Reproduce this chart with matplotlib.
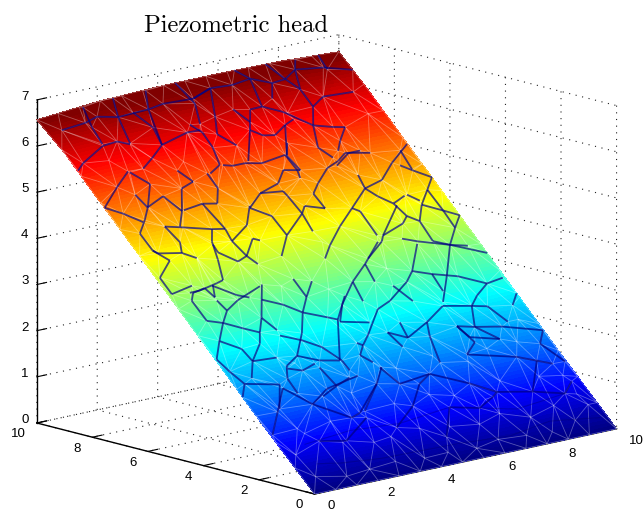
import numpy as np
import matplotlib
matplotlib.use('Agg')
import matplotlib.pyplot as plt
import matplotlib.tri as mtri
from matplotlib.colors import LinearSegmentedColormap
from mpl_toolkits.mplot3d.art3d import Line3DCollection

# head table (rows = y, columns = x)
table_x = [0, 2, 4, 6, 8, 10]
table_y = [0, 2, 4, 6, 8, 9, 10]
head_0 = [0.00, 0.00, 0.00, 0.00, 0.00, 0.00]
head_2 = [1.30, 1.31, 1.30, 1.28, 1.30, 1.31]
head_4 = [2.65, 2.66, 2.66, 2.66, 2.64, 2.65]
head_6 = [3.99, 4.00, 4.02, 4.00, 3.98, 3.99]
head_8 = [5.32, 5.35, 5.35, 5.34, 5.33, 5.33]
head_9 = [6.00, 6.03, 6.04, 6.03, 6.02, 6.00]
head_10 = [6.57, 6.68, 6.72, 6.72, 6.70, 6.63]

# fracture traces, (x, y)
fractures = [
    [(.45, 9.59), (1.25, 9.61), (1.69, 9.67), (2.26, 9.53), (3.27, 9.54), (3.80, 9.59), (4.78, 9.56), (5.48, 9.71),
     (6.17, 9.68), (6.82, 9.74), (7.37, 9.54), (7.83, 9.57), (8.32, 9.75), (9.20, 9.69), (10, 9.5)],
    [(1.5, 9.97), (1.34, 9.47), (1.25, 9.0)],
    [(3.58, 9.98), (3.27, 9.54), (2.93, 8.68), (2.37, 8.43), (1.90, 8.24)],
    [(2.51, 9.99), (2.26, 9.53), (2.05, 8.87)],
    [(2.77, 9.55), (3.03, 9.11), (2.93, 8.68)],
    [(4.58, 10), (4.72, 9.44), (4.45, 8.96)],
    [(.02, 8.54), (.32, 8.68), (1.23, 8.96), (1.72, 8.98), (2.03, 8.85)],
    [(2.93, 8.68), (3.90, 8.83), (4.32, 8.82)],
    [(5.48, 9.71), (5.03, 9.05), (4.73, 8.65), (5.06, 8.31)],
    [(5.48, 9.71), (4.78, 9.56)],
    [(6.54, 10), (6.82, 9.74), (6.59, 9.06), (6.19, 9.05), (5.76, 8.59), (5.07, 7.9)],
    [(7.37, 9.54), (7.05, 9.19)],
    [(7.57, 10), (7.83, 9.57), (8.05, 9.27), (8.06, 8.82), (8.56, 9.0), (9.53, 8.97)],
    [(8.54, 9.98), (8.32, 9.75), (8.05, 9.27)],
    [(9.31, 10), (9.28, 9.63)],
    [(6.59, 9.06), (7.09, 8.84), (7.68, 8.4), (8.22, 8.27), (8.56, 8.21), (8.14, 7.93), (7.87, 7.71)],
    [(8.06, 8.82), (7.68, 8.4), (7.36, 7.88), (7.58, 7.58)],
    [(7.24, 8.63), (6.88, 8.54), (6.31, 7.86)],
    [(5.76, 8.59), (6.03, 8.41), (6.38, 8.36), (6.88, 8.54)],
    [(4.26, 7.93), (4.53, 7.87), (4.93, 7.87), (5.42, 7.79), (6.26, 7.87)],
    [(6.26, 7.87), (6.29, 7.46), (6.21, 7.27)],
    [(7.52, 7.38), (8.12, 7.61), (8.51, 7.61)],
    [(4.14, 8.99), (4.34, 8.76), (4.33, 8.37), (4.17, 7.95), (3.72, 7.80)],
    [(5.7, 9.13), (5.93, 8.77)],
    [(6.57, 8.13), (6.29, 7.84), (6.38, 7.45), (5.89, 7.53), (5.46, 7.25), (4.74, 7.11), (4.13, 6.82)],
    [(8.75, 7.51), (8.03, 7.63), (7.66, 7.48), (7.2, 7.37), (6.62, 7.07), (6.26, 6.85)],
    [(9.99, 7.53), (9.17, 7.18), (8.52, 6.84), (7.86, 6.73), (7.07, 6.34), (6.34, 5.98), (5.65, 5.59), (5.23, 5.31)],
    [(7.94, 7.07), (7.86, 6.73), (8.06, 6.49), (8.36, 6.25), (8.84, 6.37)],
    [(6.26, 6.85), (6.29, 6.46), (5.75, 6.61), (5.52, 6.45), (5.45, 5.99)],
    [(4.74, 7.11), (5.44, 7.05), (5.47, 6.92), (5.52, 6.45), (4.62, 6.02), (4.03, 5.57)],
    [(4.13, 6.82), (4.59, 6.53), (4.62, 6.02)],
    [(8.42, 6.19), (7.39, 5.57), (7.23, 5.44), (6.47, 5.11)],
    [(7.07, 6.34), (7.24, 6.23), (7.22, 5.6)],
    [(8.36, 6.25), (8.48, 5.9), (8.21, 5.75), (7.39, 5.57)],
    [(9.34, 7.08), (9.6, 6.9), (10, 6.65), (9.61, 6.39), (9.14, 6.08), (8.74, 5.72), (8.48, 5.9)],
    [(9.66, 7.42), (9.6, 6.93)],
    [(9.61, 6.39), (9.63, 5.84), (9.61, 5.39), (10, 5.65), (9.63, 5.84), (9.14, 6.08)],
    [(8.74, 5.72), (8.7, 5.2), (9.11, 5.03), (9.6, 4.92)],
    [(9.61, 5.39), (9.11, 5.03)],
    [(8.93, 6.38), (9.17, 6.18)],
    [(1.42, 8.26), (.79, 7.97), (.01, 7.57), (.41, 7.34), (.8, 7.04)],
    [(1.45, 8.23), (1.78, 7.86), (1.25, 7.36), (.89, 7.08), (.47, 6.8)],
    [(1.14, 7.7), (1.23, 7.35), (1.9, 7.52), (2.13, 7.09), (1.75, 6.75)],
    [(2.84, 8.03), (3.06, 7.7), (2.59, 7.6), (2.13, 7.09)],
    [(3.63, 7.82), (3.63, 7.43), (3.29, 7.08), (2.86, 7.15), (2.2, 7.1)],
    [(2.86, 7.15), (2.99, 6.47), (2.61, 6.53), (1.82, 6.72), (1.32, 6.83)],
    [(1.32, 6.83), (1.43, 6.4), (1.26, 6.15), (1.58, 5.96)],
    [(2.61, 6.53), (2.35, 6.25), (2.15, 5.82), (1.87, 5.33), (1.63, 5.29), (.99, 5.21), (.66, 5.21)],
    [(.47, 6.8), (.48, 6.35), (.76, 6.04), (.12, 5.7), (.12, 5.27), (.87, 5.36)],
    [(.48, 6.35), (.57, 6.26), (1.26, 6.15)],
    [(2.93, 6.16), (3.04, 5.75), (2.68, 5.67), (2.3, 5.98), (2.32, 6.18)],
    [(3.04, 5.75), (3.57, 6.11), (3.74, 6.03)],
    [(4.17, 6.87), (3.68, 6.44), (2.93, 6.16), (2.99, 6.47)],
    [(3.04, 5.75), (3.19, 5.51)],
    [(1.44, 5.26), (1.95, 4.92), (2.26, 4.8)],
    [(.75, 5.19), (1.18, 5.24), (1.28, 4.98), (1.47, 5.26)],
    [(.75, 5.19), (.55, 5.02), (.56, 4.49), (.98, 4.36)],
    [(1.27, 4.9), (1.35, 4.62), (.98, 4.36), (.5, 3.97), (.04, 3.57), (.16, 3.23), (.33, 2.88), (0, 2.59)],
    [(1.35, 4.62), (1.87, 4.8), (2.79, 5.0)],
    [(.98, 4.36), (1.43, 4.14), (1.83, 3.96), (2.18, 4.28), (2.37, 3.93)],
    [(2.18, 4.28), (2.88, 5.03)],
    [(1.83, 3.96), (1.6, 3.71), (1.03, 3.35), (.65, 2.97)],
    [(.5, 3.97), (.97, 3.68), (1.03, 3.35), (1.79, 3.31)],
    [(2.56, 4.69), (3.07, 4.47), (3.47, 4.2), (4.08, 3.97), (4.33, 3.87)],
    [(3.9, 4.53), (3.47, 4.2), (3.02, 3.74), (2.41, 3.25), (1.9, 3.07), (1.66, 2.78), (1.65, 2.4)],
    [(2.34, 3.79), (2.87, 3.58), (3.3, 3.33), (3.6, 2.93), (3.62, 2.67)],
    [(5.02, 4.37), (4.33, 3.87), (3.54, 2.94)],
    [(2.41, 3.25), (2.96, 3.04), (3.54, 2.94)],
    [(1.87, 3.01), (2.26, 2.89), (2.76, 2.99)],
    [(.33, 2.88), (1.32, 2.69), (.81, 2.14)],
    [(2.31, 2.21), (2.92, 2.38), (3.47, 2.51)],
    [(2.92, 2.38), (2.81, 2.88)],
    [(4.38, 4.86), (3.9, 4.53), (3.89, 5.0)],
    [(7.11, 5.45), (6.27, 5.0), (5.54, 4.65), (4.77, 4.19), (4.35, 3.81)],
    [(5.54, 4.65), (5.43, 4.16)],
    [(6.27, 5.0), (6.18, 4.55)],
    [(7.87, 5.41), (8.27, 5.27), (9.11, 5.03), (10, 4.66)],
    [(7.48, 4.62), (7.99, 4.46), (8.68, 4.28), (9.36, 3.97), (9.93, 4.02)],
    [(9.11, 5.03), (8.38, 4.35), (7.72, 3.77)],
    [(7.99, 4.46), (7.95, 4.02)],
    [(8.2, 5.22), (7.48, 4.62), (7.1, 4.4), (6.21, 4.04), (5.69, 3.91), (4.88, 3.38), (4.52, 3.17)],
    [(6.62, 4.37), (6.87, 3.93)],
    [(7.63, 3.68), (6.83, 3.38), (5.97, 3.13), (5.49, 3.34), (5.63, 2.95)],
    [(7.63, 3.68), (8.46, 3.54), (8.9, 3.45), (9.16, 3.0)],
    [(6.83, 3.38), (6.62, 3.05), (6.38, 2.42)],
    [(8.46, 3.54), (8.83, 3.75), (9.36, 3.97)],
    [(7.61, 3.15), (8.11, 3.05), (8.89, 2.92), (9.98, 2.63)],
    [(8.46, 3.54), (8.11, 3.05), (8.57, 2.65), (7.75, 2.84), (7.61, 3.15)],
    [(7.61, 3.15), (7.79, 2.7), (7.31, 2.46), (8.68, 2.16), (9.56, 1.82)],
    [(4.39, 3.25), (4.52, 3.17), (4.23, 2.96), (4.45, 2.74)],
    [(5.18, 3.65), (4.35, 3.81)],
    [(6.05, 3.51), (5.97, 3.13)],
    [(10, 3.6), (9.64, 3.35)],
    [(9.98, 2.63), (9.62, 2.34), (9.96, 1.81)],
    [(9.17, 1.97), (8.4, 1.28), (9.28, 1.07), (9.73, 1.32)],
    [(7.38, 1.46), (8.4, 1.28)],
    [(5.85, 2.22), (5.35, 2.04), (4.69, 1.56), (3.76, 1.13)],
    [(3.74, 2.51), (2.58, 2.36), (1.85, 2.08), (1.33, 2.59)],
    [(4.6, 2.59), (4.12, 2.24), (3.2, 1.67)],
    [(5.85, 2.22), (4.78, 2.13), (4.54, 2.59)],
    [(1.85, 2.08), (2.68, 1.58), (3.02, 1.65), (4.12, 2.24)],
    [(3.11, 1.51), (2.04, 1.07), (1.26, 1.2)],
    [(5.71, 1.35), (6.55, 1.18), (7.17, 1.37), (7.38, 1.46)],
    [(5.71, 1.35), (4.99, .67)],
    [(1.33, 2.59), (.69, 2.08), (.06, 1.58)],
    [(5.85, 2.22), (6.79, 1.8), (7.38, 1.46)],
]
# fainter traces near the outflow side
faint_fractures = [
    [(.7, .69), (1.47, .58), (2.7, .49), (5.32, .45), (6.81, .37), (8.25, .51), (9.76, .34)],
    [(.77, 1.2), (2.35, 1.29), (3.93, 1.21), (5.71, 1.35)],
    [(6.55, 1.18), (7.58, .96), (9.28, 1.07)],
]

# mesh nodes that are not on a fracture
edge_pos = [0, .7, 1.4, 2.1, 2.8, 3.5, 4.2, 4.9, 5.6, 6.3, 7, 7.7, 8.4, 9.1, 10]
extra_x = [.4, 1.3, 2.1, 3, 3.9, 4.7, 5.6, 6.4, 7.3, 8.1, 9, 9.7,
           .3, 1.9, 2.8, 3.4, 4.4, 5.3, 6.2, 7, 7.8, 8.7, 9.6,
           .9, 2, 4.2, 5.4, 6.1, 6.9, 7.7, 8.9, 9.6,
           1, 3.2, 5, 6.3, 7.2, 8, 9, 9.5, 6.8, 5.5, 3.2, 1.1, 3.4, 2.2, 4.7, 7.2, 9.5]
extra_y = [.4, .25, .3, .35, .28, .3, .25, .35, .3, .25, .4, .7,
           1, 1.05, .9, .95, 1, .9, .8, .95, .7, .85, 1,
           1.6, 1.6, 1.7, 1.75, 1.6, 1.35, 1.7, 1.6, 1.5,
           1.45, 2.15, 2.5, 2.6, 2.3, 2.5, 2.5, 3, 4.8, 5.7, 8.2, 8.6, 4.9, 3.1, 4.6, 8.8, 8.4]

xticks = [0, 2, 4, 6, 8, 10]
yticks = [0, 2, 4, 6, 8, 10]
zticks = [0, 1, 2, 3, 4, 5, 6, 7]

plt.rcParams['font.family'] = 'Liberation Sans'

head = np.array([head_0, head_2, head_4, head_6, head_8, head_9, head_10])
tx, ty = np.meshgrid(table_x, table_y)
head_at = mtri.LinearTriInterpolator(mtri.Triangulation(tx.ravel(), ty.ravel()), head.ravel())

# jet the way MATLAB has it
matlab_jet = LinearSegmentedColormap.from_list('matlab_jet', [
    (0, (0, 0, .5)), (.125, (0, 0, 1)), (.375, (0, 1, 1)), (.625, (1, 1, 0)), (.875, (1, 0, 0)), (1, (.5, 0, 0))], N=256)

fig = plt.figure(figsize=(6.44, 5.11), dpi=100)
ax = fig.add_axes([-4 / 644, (511 - 644) / 2 / 511 - 17.5 / 511, 1, 644 / 511], projection='3d', computed_zorder=False)
ax.set_proj_type('ortho')
ax.set_box_aspect((411, 411, 333), zoom=1.008)
ax.view_init(elev=13.6, azim=227.4)
ax.set_xlim(0, 10, view_margin=0)
ax.set_ylim(0, 10, view_margin=0)
ax.set_zlim(0, 7, view_margin=0)

# smooth colour
sx = np.linspace(0, 10, 121)
sy = np.linspace(0, 10, 121)
SX, SY = np.meshgrid(sx, sy)
SZ = np.ma.filled(head_at(SX, SY), 0)
ax.plot_surface(SX, SY, SZ, rstride=1, cstride=1, cmap=matlab_jet, vmin=0, vmax=6.55, linewidth=0,
                antialiased=False, shade=False, zorder=1)

# triangle mesh from the fracture nodes, boundary and filling nodes
nx = [p[0] for f in fractures for p in f] + list(extra_x)
ny = [p[1] for f in fractures for p in f] + list(extra_y)
for e in edge_pos:
    nx += [e, e, 0, 10]
    ny += [0, 10, e, e]
nodes = np.unique(np.round(np.column_stack([nx, ny]), 2), axis=0)
mesh = mtri.Triangulation(nodes[:, 0], nodes[:, 1])
nz = np.ma.filled(head_at(nodes[:, 0], nodes[:, 1]), 0)
xyz = np.column_stack([nodes, nz])
ax.add_collection3d(Line3DCollection(xyz[mesh.edges], colors=[(1, 1, 1, 0.33)], linewidths=0.6, zorder=2))


def trace_segments(traces):
    segs = []
    for f in traces:
        f = np.array(f, dtype=float)
        z = np.ma.filled(head_at(f[:, 0], f[:, 1]), 0)
        p = np.column_stack([f, z])
        segs.extend(np.stack([p[:-1], p[1:]], axis=1))
    return segs


ax.add_collection3d(Line3DCollection(trace_segments(faint_fractures), colors=[(0, 0, .35, .3)], linewidths=0.8, zorder=3))
ax.add_collection3d(Line3DCollection(trace_segments(fractures), colors=[(0, 0, .5, .7)], linewidths=1.3, zorder=3))

ax.set_xticks(xticks)
ax.set_yticks(yticks)
ax.set_zticks(zticks)
ax.tick_params(axis='x', labelsize=9.5, pad=3)
ax.tick_params(axis='y', labelsize=9.5, pad=1)
ax.tick_params(axis='z', labelsize=9.5, pad=-3)
for axis in (ax.xaxis, ax.yaxis, ax.zaxis):
    axis.set_pane_color((1, 1, 1, 0))
    axis.pane.set_edgecolor('none')
    axis._axinfo['grid'].update(color='#222222', linestyle=(0, (1, 5)), linewidth=0.8)
    axis.line.set_color('k')
    axis.line.set_linewidth(1.0)
    axis._axinfo['tick']['inward_factor'] = 0
    axis._axinfo['tick']['outward_factor'] = 0.4
    axis._axinfo['tick']['color'] = 'k'
for lab in ax.xaxis.get_ticklabels():
    lab.set_ha('left')
    lab.set_va('bottom')
for lab in ax.yaxis.get_ticklabels():
    lab.set_ha('right')
    lab.set_va('baseline')
for lab in ax.zaxis.get_ticklabels():
    lab.set_va('baseline')

ax.set_title('Piezometric head', x=0.372, y=0.936, fontsize=17.7, family='cmr10')

fig.savefig('out.png', dpi=100)
